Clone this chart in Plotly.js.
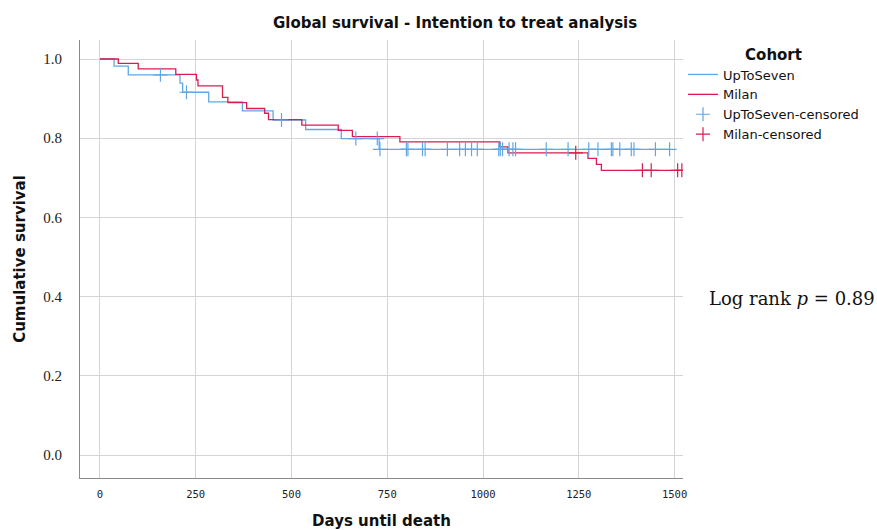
<!DOCTYPE html>
<html>
<head>
<meta charset="utf-8">
<script src="https://cdn.plot.ly/plotly-3.0.1.min.js"></script>
<style>html,body{margin:0;padding:0;background:#fff;}#chart{width:877px;height:530px;}</style>
</head>
<body>
<div id="chart"></div>
<script>
// UpToSeven cohort: step times (days) and cumulative survival
const upToSevenTimes = [0, 37, 74, 209, 216, 284, 372, 452, 537, 630, 729, 1487];
const upToSevenSurv  = [1.0, 0.982, 0.960, 0.939, 0.916, 0.892, 0.869, 0.846, 0.822, 0.799, 0.772, 0.772];
const upToSevenCensored = [158, 226, 474, 668, 724, 731, 800, 804, 842, 849, 907, 939, 954, 970, 985, 1041, 1045, 1051, 1068, 1078, 1085, 1165, 1222, 1276, 1300, 1335, 1339, 1357, 1387, 1394, 1450, 1487];

// Milan cohort
const milanTimes = [0, 48, 100, 198, 252, 256, 320, 334, 383, 430, 440, 527, 622, 659, 783, 1044, 1065, 1274, 1296, 1309, 1519];
const milanSurv  = [1.0, 0.989, 0.975, 0.961, 0.947, 0.932, 0.903, 0.890, 0.875, 0.863, 0.847, 0.833, 0.820, 0.804, 0.791, 0.778, 0.763, 0.749, 0.734, 0.719, 0.719];
const milanCensored = [1242, 1416, 1439, 1508, 1519];

const xTicks = [0, 250, 500, 750, 1000, 1250, 1500];
const yTicks = [0.0, 0.2, 0.4, 0.6, 0.8, 1.0];

const BLUE = '#62a6e6';
const RED = '#d81e50';

function survAt(times, surv, t) {
  let s = surv[0];
  for (let i = 0; i < times.length; i++) { if (times[i] <= t) s = surv[i]; }
  return s;
}

const traces = [
  {x: upToSevenTimes, y: upToSevenSurv, name: 'UpToSeven', mode: 'lines',
   line: {shape: 'hv', color: BLUE, width: 1.3}},
  {x: milanTimes, y: milanSurv, name: 'Milan', mode: 'lines',
   line: {shape: 'hv', color: RED, width: 1.3}},
  {x: upToSevenCensored, y: upToSevenCensored.map(t => survAt(upToSevenTimes, upToSevenSurv, t)),
   name: 'UpToSeven-censored', mode: 'markers',
   marker: {symbol: 'cross-thin-open', size: 10, color: BLUE, line: {color: BLUE, width: 1.2}}},
  {x: milanCensored, y: milanCensored.map(t => survAt(milanTimes, milanSurv, t)),
   name: 'Milan-censored', mode: 'markers',
   marker: {symbol: 'cross-thin-open', size: 10, color: RED, line: {color: RED, width: 1.2}}}
];

const layout = {
  width: 877, height: 530,
  paper_bgcolor: '#ffffff', plot_bgcolor: '#ffffff',
  margin: {l: 80, r: 194, t: 40, b: 52},
  showlegend: true,
  legend: {
    x: 1.0, y: 1.0, xanchor: 'left', yanchor: 'top',
    font: {family: 'DejaVu Sans', size: 13, color: '#111'},
    title: {text: '<b>Cohort</b>', side: 'top center', font: {family: 'DejaVu Sans', size: 15, color: '#111'}},
    tracegroupgap: 0, itemwidth: 30, bgcolor: 'rgba(0,0,0,0)'
  },
  title: {
    text: '<b>Global survival - Intention to treat analysis</b>',
    x: 0.622, xref: 'paper', xanchor: 'center', y: 0.958, yref: 'container', yanchor: 'middle',
    font: {family: 'DejaVu Sans', size: 15, color: '#111'}
  },
  xaxis: {
    range: [-52, 1522], tickvals: xTicks, ticktext: xTicks.map(String),
    showgrid: true, gridcolor: '#d4d4d4', gridwidth: 1, zeroline: false,
    showline: true, linecolor: '#8a8a8a', linewidth: 1,
    ticks: 'outside', ticklen: 6, tickcolor: 'rgba(0,0,0,0)',
    tickfont: {family: 'DejaVu Sans Mono', size: 10.5, color: '#222'},
    title: {text: '<b>Days until death</b>', standoff: 18,
      font: {family: 'DejaVu Sans', size: 15, color: '#111'}}
  },
  yaxis: {
    range: [-0.058, 1.048], tickvals: yTicks, ticktext: yTicks.map(v => v.toFixed(1)),
    showgrid: true, gridcolor: '#d4d4d4', gridwidth: 1, zeroline: false,
    showline: true, linecolor: '#8a8a8a', linewidth: 1,
    ticks: 'outside', ticklen: 14, tickcolor: 'rgba(0,0,0,0)',
    tickfont: {family: 'Liberation Serif', size: 15, color: '#222'},
    title: {text: '<b>Cumulative survival</b>', standoff: 14,
      font: {family: 'DejaVu Sans', size: 15, color: '#111'}}
  },
  annotations: [{
    text: 'Log rank <i>p</i> = 0.89', xref: 'paper', yref: 'paper',
    x: 1.18, y: 0.41, xanchor: 'center', yanchor: 'middle', showarrow: false,
    font: {family: 'DejaVu Serif', size: 18, color: '#111'}
  }]
};

Plotly.newPlot('chart', traces, layout, {displayModeBar: false, responsive: false});
</script>
</body>
</html>
